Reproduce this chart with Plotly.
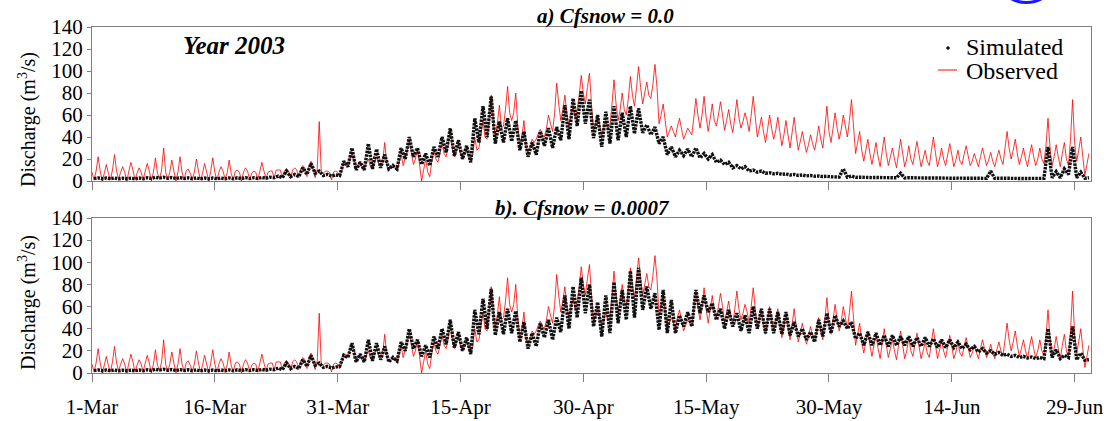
import numpy as np
import pandas as pd
import plotly.graph_objects as go

# ---- observed discharge (m3/s), 1 Mar - 30 Jun 2003, four readings a day ----
# 00h
obs_night = [8, 9, 7, 9, 8, 10, 8, 9, 7, 8,
             9, 8, 7, 9, 8, 8, 9, 7, 8, 9,
             8, 9, 9, 10, 9, 10, 12, 9, 8, 8,
             8, 17, 20, 12, 13, 16, 15, 12, 14, 25,
             15, 8, 20, 25, 30, 25, 22, 28, 40, 55,
             48, 62, 50, 32, 35, 42, 52, 70, 60, 58,
             80, 70, 50, 48, 70, 65, 78, 85, 78, 85,
             55, 45, 47, 45, 60, 58, 55, 60, 52, 58,
             55, 58, 45, 48, 45, 42, 42, 35, 34, 38,
             45, 48, 50, 50, 28, 25, 22, 25, 20, 25,
             20, 24, 18, 26, 20, 24, 18, 23, 19, 22,
             18, 20, 30, 25, 20, 22, 20, 30, 22, 20,
             35, 22]
# 06h (daily trough)
obs_lo = [1, 0, 1, 2, 0, 1, 1, 0, 2, 1,
          0, 1, 2, 1, 0, 1, 2, 1, 0, 1,
          1, 2, 3, 3, 2, 3, 4, 3, 7, 1,
          4, 14, 11, 10, 12, 14, 10, 9, 20, 15,
          0, 4, 17, 22, 22, 20, 18, 30, 38, 40,
          50, 55, 30, 25, 38, 40, 45, 55, 50, 65,
          70, 45, 42, 50, 55, 60, 68, 70, 75, 52,
          40, 40, 38, 42, 48, 45, 50, 46, 44, 48,
          45, 40, 35, 38, 32, 30, 28, 26, 28, 30,
          35, 38, 40, 25, 18, 15, 13, 14, 12, 13,
          15, 13, 14, 13, 14, 13, 15, 14, 13, 14,
          13, 15, 20, 15, 13, 14, 16, 14, 13, 14,
          18, 5]
# 12h
obs_noon = [9, 7, 10, 8, 9, 7, 9, 8, 10, 8,
            8, 9, 8, 7, 9, 8, 7, 9, 8, 7,
            9, 8, 10, 9, 10, 11, 13, 10, 9, 8,
            9, 20, 14, 16, 17, 18, 12, 17, 28, 20,
            10, 18, 25, 32, 27, 25, 24, 42, 55, 52,
            65, 62, 40, 30, 43, 48, 62, 65, 60, 78,
            85, 52, 48, 70, 65, 75, 85, 80, 88, 60,
            45, 50, 43, 58, 60, 57, 60, 55, 58, 54,
            60, 48, 47, 46, 42, 44, 36, 33, 38, 48,
            48, 47, 55, 35, 28, 25, 27, 22, 25, 20,
            26, 20, 27, 20, 24, 19, 24, 18, 22, 19,
            21, 30, 28, 22, 24, 20, 32, 22, 25, 38,
            28, 15]
# 18h (daily peak)
obs_hi = [22, 15, 24, 13, 17, 12, 16, 21, 30, 19,
          22, 11, 20, 16, 21, 13, 19, 10, 12, 9,
          17, 9, 10, 11, 12, 14, 18, 54, 9, 9,
          17, 25, 18, 20, 22, 35, 16, 24, 37, 30,
          20, 28, 34, 48, 33, 30, 40, 55, 78, 69,
          86, 80, 55, 38, 47, 60, 89, 78, 68, 96,
          98, 60, 55, 92, 80, 95, 104, 90, 106, 70,
          50, 57, 48, 75, 77, 70, 72, 65, 74, 62,
          77, 58, 60, 58, 55, 58, 45, 42, 50, 68,
          62, 60, 74, 45, 38, 35, 40, 30, 38, 32,
          36, 28, 40, 30, 34, 28, 32, 25, 30, 26,
          28, 45, 38, 30, 33, 30, 57, 33, 35, 74,
          40, 25]

# ---- simulated discharge: daily trough (06h) / peak (18h) ----
# a) Cfsnow = 0.0
sim_a_lo = [2.2, 2.1, 2.1, 2.0, 2.0, 2.0, 2.1, 2.4, 2.6, 2.5,
            2.3, 2.2, 2.1, 2.0, 2.0, 2.0, 2.1, 2.1, 2.2, 2.2,
            2.3, 2.5, 3.0, 3.0, 4.0, 4.0, 6.0, 7.0, 5.0, 4.5,
            5, 13, 10, 10, 11, 12, 11, 11, 20, 22,
            15, 14, 22, 26, 23, 20, 17, 35, 40, 34,
            35, 36, 28, 22, 24, 32, 30, 37, 38, 50,
            52, 39, 31, 34, 37, 40, 43, 44, 42, 34,
            24, 22, 23, 22, 21, 20, 17, 15, 12, 11,
            9, 8, 7, 6.5, 6, 5.5, 5, 4.6, 4.3, 4,
            3.8, 3.6, 3.5, 3.3, 3.2, 3.1, 3.0, 3.0, 2.9, 2.8,
            2.8, 2.7, 2.7, 2.6, 2.6, 2.5, 2.5, 2.5, 2.4, 2.4,
            2.4, 2.3, 2.3, 2.3, 2.3, 2.3, 2.4, 3.0, 3.0, 6.0,
            3.0, 2.5]
sim_a_hi = [2.8, 2.7, 2.7, 2.6, 2.6, 2.7, 3.0, 3.3, 3.4, 3.2,
            3.0, 2.9, 2.8, 2.7, 2.7, 2.7, 2.8, 2.9, 3.0, 3.0,
            3.2, 3.5, 4.5, 9, 6, 12, 16, 9, 6, 5.5,
            18, 30, 17, 34, 29, 24, 14, 30, 40, 30,
            25, 31, 40, 48, 37, 32, 57, 68, 77, 54,
            57, 55, 45, 35, 45, 48, 49, 69, 75, 82,
            74, 60, 63, 68, 62, 68, 66, 51, 49, 40,
            31, 28, 29, 30, 25, 24, 19, 17, 14, 13,
            10, 9, 7.5, 7, 6.5, 6, 5.5, 5, 4.6, 4.3,
            4, 11, 4.5, 3.5, 3.3, 3.2, 3.1, 3.1, 7, 3,
            2.9, 2.8, 2.8, 2.7, 2.7, 2.6, 2.6, 2.6, 2.5, 9,
            2.5, 2.4, 2.4, 2.4, 2.4, 2.4, 31, 8.5, 11, 31,
            8, 3]

# b) Cfsnow = 0.0007
sim_b_lo = [2.2, 2.1, 2.1, 2.0, 2.0, 2.0, 2.1, 2.4, 2.6, 2.5,
            2.3, 2.2, 2.1, 2.0, 2.0, 2.0, 2.1, 2.1, 2.2, 2.2,
            2.3, 2.5, 3.0, 3.0, 4.0, 4.0, 6.0, 7.0, 5.0, 4.5,
            6, 14, 10, 10, 11, 12, 10, 11, 20, 22,
            15, 14, 22, 26, 23, 20, 17, 35, 40, 34,
            35, 36, 28, 22, 24, 32, 30, 37, 40, 50,
            54, 42, 33, 36, 45, 48, 50, 57, 58, 39,
            36, 36, 42, 42, 54, 55, 48, 40, 42, 38,
            36, 40, 36, 36, 35, 34, 33, 30, 28, 33,
            36, 42, 40, 31, 25, 25, 25, 24, 25, 25,
            24, 24, 24, 23, 23, 23, 22, 21, 19, 18,
            17, 16, 15, 14, 13.5, 13, 13, 14, 13, 14,
            12, 11.5]
sim_b_hi = [2.8, 2.7, 2.7, 2.6, 2.6, 2.7, 3.0, 3.3, 3.4, 3.2,
            3.0, 2.9, 2.8, 2.7, 2.7, 2.7, 2.8, 2.9, 3.0, 3.0,
            3.2, 3.5, 4.5, 9, 6, 12, 16, 9, 6, 5.5,
            16, 27, 17, 30, 27, 24, 14, 28, 40, 30,
            25, 33, 40, 48, 37, 32, 57, 67, 76, 55,
            58, 56, 46, 36, 45, 48, 50, 70, 78, 86,
            80, 64, 70, 82, 75, 92, 95, 78, 72, 75,
            66, 52, 55, 75, 70, 63, 58, 57, 54, 52,
            60, 58, 58, 55, 55, 46, 40, 37, 48, 54,
            52, 47, 46, 36, 37, 36, 34, 34, 33, 33,
            32, 32, 31, 30, 30, 28, 26, 24, 22, 20,
            18.5, 17, 16, 15, 14.5, 14, 40, 21, 16, 42,
            18, 12]

tick_dates = ["2003-03-01", "2003-03-16", "2003-03-31", "2003-04-15", "2003-04-30",
              "2003-05-15", "2003-05-30", "2003-06-14", "2003-06-29"]
tick_labels = ["1-Mar", "16-Mar", "31-Mar", "15-Apr", "30-Apr",
               "15-May", "30-May", "14-Jun", "29-Jun"]

start = pd.Timestamp("2003-03-01")
n_days = len(obs_lo)
day_idx = np.arange(n_days)


def stack_readings(columns, hours):
    """Flatten per-day readings taken at the given hours into one time series."""
    k = len(columns)
    t = np.empty(k * n_days)
    v = np.empty(k * n_days)
    for j, (col, hr) in enumerate(zip(columns, hours)):
        t[j::k] = day_idx + hr / 24.0
        v[j::k] = col
    return start + pd.to_timedelta(t, unit="D"), v


t_obs, obs = stack_readings([obs_night, obs_lo, obs_noon, obs_hi], [0, 6, 12, 18])
t_sim, sim_a = stack_readings([sim_a_lo, sim_a_hi], [6, 18])
_, sim_b = stack_readings([sim_b_lo, sim_b_hi], [6, 18])

SERIF = "Liberation Serif"
FRAME = "#808080"
W, H = 1107, 421
ML, MR, MT, MB = 92, 16, 27, 48
PW, PH = W - ML - MR, H - MT - MB


def px(xpix):
    return (xpix - ML) / PW


def py(ypix):
    return (H - MB - ypix) / PH


fig = go.Figure()
for k, sim in ((1, sim_a), (2, sim_b)):
    xa = "x" if k == 1 else "x2"
    ya = "y" if k == 1 else "y2"
    fig.add_trace(go.Scatter(x=t_obs, y=obs, mode="lines", name="Observed",
                             line=dict(color="#ff0000", width=0.8),
                             xaxis=xa, yaxis=ya, showlegend=False))
    fig.add_trace(go.Scatter(x=t_sim, y=sim, mode="lines", name="Simulated",
                             line=dict(color="#111111", width=3.4, dash="2.5px,1px"),
                             xaxis=xa, yaxis=ya, showlegend=False))

xcommon = dict(type="date", range=["2003-03-01", "2003-07-01"],
               tickvals=tick_dates, ticktext=tick_labels, automargin=False,
               ticks="outside", ticklen=8, tickcolor=FRAME, tickwidth=1,
               showline=True, linecolor=FRAME, linewidth=1.2, mirror=True,
               showgrid=False, zeroline=False,
               tickfont=dict(family=SERIF, size=21, color="black"))
ycommon = dict(range=[0, 140], dtick=20, tick0=0, automargin=False,
               ticks="outside", ticklen=4, tickcolor=FRAME,
               showline=True, linecolor=FRAME, linewidth=1.2, mirror=True,
               showgrid=False, zeroline=False,
               tickfont=dict(family=SERIF, size=21, color="black"))

fig.update_layout(
    width=W, height=H,
    margin=dict(l=ML, r=MR, t=MT, b=MB, autoexpand=False),
    paper_bgcolor="white", plot_bgcolor="white",
    showlegend=False,
    xaxis=dict(xcommon, anchor="y", showticklabels=False),
    xaxis2=dict(xcommon, anchor="y2", ticklabelstandoff=7),
    yaxis=dict(ycommon, domain=[py(181), 1]),
    yaxis2=dict(ycommon, domain=[0, py(218)]),
)

texts = [
    dict(text="<b><i>a) Cfsnow = 0.0</i></b>", x=605, y=16, size=21, angle=0),
    dict(text="<b><i>b). Cfsnow = 0.0007</i></b>", x=582, y=208.5, size=21, angle=0),
    dict(text="<b><i>Year 2003</i></b>", x=234, y=46, size=25, angle=0),
    dict(text="Discharge (m<sup>3</sup>/s)", x=27, y=120, size=20, angle=-90),
    dict(text="Discharge (m<sup>3</sup>/s)", x=27, y=303, size=20, angle=-90),
]
for a in texts:
    fig.add_annotation(text=a["text"], x=px(a["x"]), y=py(a["y"]),
                       xref="paper", yref="paper", textangle=a["angle"],
                       xanchor="center", yanchor="middle", showarrow=False,
                       font=dict(family=SERIF, size=a["size"], color="black"))

# legend entries
for label, ycen in (("Simulated", 47), ("Observed", 71)):
    fig.add_annotation(text=label, x=px(964), y=py(ycen), xref="paper", yref="paper",
                       xanchor="left", yanchor="middle", showarrow=False,
                       font=dict(family=SERIF, size=24, color="black"))
fig.add_shape(type="circle", xref="paper", yref="paper",
              x0=px(946.5), x1=px(949.5), y0=py(49.5), y1=py(46.5),
              fillcolor="#111111", line=dict(color="#111111", width=0.5))
fig.add_shape(type="line", xref="paper", yref="paper",
              x0=px(938), x1=px(957), y0=py(70), y1=py(70),
              line=dict(color="#ff0000", width=1))

# blue ring partly cut off at the top edge
fig.add_shape(type="circle", xref="paper", yref="paper",
              x0=px(995), x1=px(1058), y0=py(2.5), y1=py(-60),
              line=dict(color="#1a1aff", width=3))

fig.write_html("out.html")
